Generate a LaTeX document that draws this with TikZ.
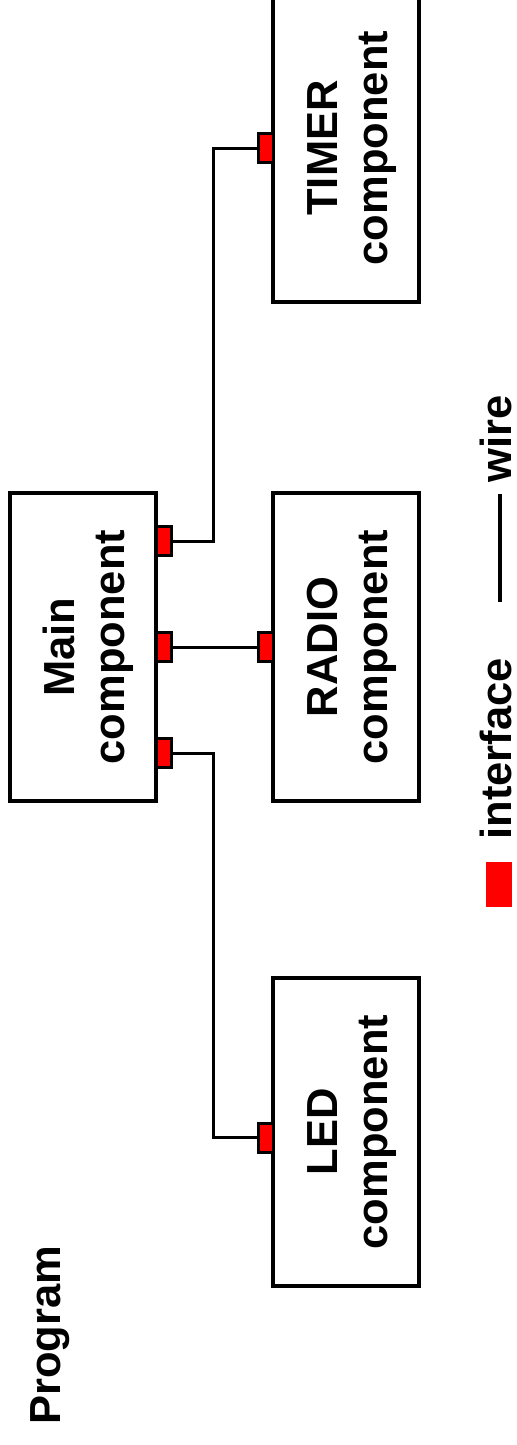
\documentclass[tikz,border=0pt]{standalone}
\usepackage{fontspec}
\setmainfont{Liberation Sans}
\usepackage{graphicx}
\usetikzlibrary{positioning}
\definecolor{ifcred}{HTML}{FF0000}
\newcommand{\vlabel}[1]{\rotatebox{90}{\raisebox{-3.25pt}[\height][\depth]{\begin{tabular}{@{}c@{}}#1\end{tabular}}}}

\begin{document}
\begin{tikzpicture}[x=0.5pt, y=-0.5pt,
  font=\fontsize{21.75}{25}\selectfont\bfseries,
  comp/.style={draw, line width=2pt, outer sep=0pt, inner sep=0pt,
               minimum width=73pt, minimum height=154pt},
  port/.style={draw, fill=ifcred, line width=1.5pt, outer sep=0pt, inner sep=0pt,
               minimum width=7.5pt, minimum height=14.5pt},
  wire/.style={line width=1.5pt},
  legtext/.style={rotate=90, inner sep=0pt, anchor=base west}]
\useasboundingbox (0,0) rectangle (516,1445);
% components
\node[comp] (main) at (83,647) {\vlabel{Main\\component}};
\node[comp, right=58.5pt of main] (radio) {\vlabel{RADIO\\component}};
\node[comp, above=95.5pt of radio] (timer) {\vlabel{TIMER\\component}};
\node[comp, below=88.5pt of radio] (led) {\vlabel{LED\\component}};
% interfaces
\node[port, anchor=west] (mp1) at ([yshift=53pt]main.east) {};
\node[port, anchor=west] (mp2) at (main.east) {};
\node[port, anchor=west] (mp3) at ([yshift=-53pt]main.east) {};
\node[port, anchor=east] (rp) at (radio.west) {};
\node[port, anchor=east] (tp) at (timer.west) {};
\node[port, anchor=east] (lp) at ([yshift=-2.75pt]led.west) {};
% wires
\draw[wire] (mp2.east) -- (rp.west);
\draw[wire] (mp1.east) -- ++(21pt,0) |- (tp.west);
\draw[wire] (mp3.east) -- ++(21pt,0) |- (lp.west);
% legend
\node[fill=ifcred, inner sep=0pt, minimum width=13pt, minimum height=22.5pt] (ifc) at (499,884.5) {};
\node[legtext] (ifclab) at (511,840) {interface};
\coordinate (wa) at (500,602);
\coordinate (wb) at (500,494);
\draw[line width=2pt] (wa) -- (wb);
\node[legtext] (wirelab) at (511,483) {wire};
\node[legtext] (title) at (61,1425) {Program};
\end{tikzpicture}
\end{document}
